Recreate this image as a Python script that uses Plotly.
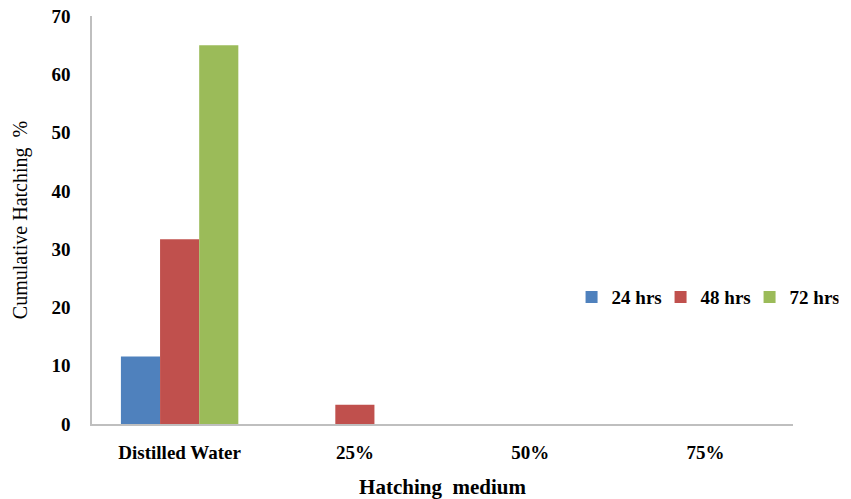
import plotly.graph_objects as go

categories = ["Distilled Water", "25%", "50%", "75%"]
hrs_24 = [11.6, 0, 0, 0]
hrs_48 = [31.7, 3.3, 0, 0]
hrs_72 = [65, 0, 0, 0]
series_names = ["24 hrs", "48 hrs", "72 hrs"]
colors = ["#4F81BD", "#C0504D", "#9BBB59"]

fig = go.Figure()
for name, vals, col in zip(series_names, [hrs_24, hrs_48, hrs_72], colors):
    fig.add_trace(go.Bar(x=categories, y=vals, name=name, marker_color=col,
                         marker_line_width=0))

font_family = "Liberation Serif, Times New Roman, serif"
fig.update_layout(
    width=851, height=499,
    margin=dict(l=92, r=49, t=16, b=75),
    paper_bgcolor="white", plot_bgcolor="white",
    barmode="group", bargap=0.33, bargroupgap=0,
    font=dict(family=font_family, color="black"),
    legend=dict(orientation="h", x=1.065, y=0.311, xanchor="right", yanchor="middle",
                font=dict(size=19, family=font_family, weight="bold"),
                itemwidth=30, entrywidth=44, entrywidthmode="pixels",
                bgcolor="rgba(0,0,0,0)", traceorder="normal"),
    xaxis=dict(showline=True, linecolor="#BFBFBF", linewidth=1.5, automargin=False,
               tickfont=dict(size=19, weight="bold"), ticks="",
               ticklabelstandoff=10,
               title=dict(text="Hatching  medium", font=dict(size=21, weight="bold"),
                          standoff=18)),
    yaxis=dict(range=[0, 70], dtick=10, showgrid=False, zeroline=False, automargin=False,
               showline=True, linecolor="#BFBFBF", linewidth=1.5, ticks="",
               tickfont=dict(size=19, weight="bold"), ticklabelstandoff=16,
               title=dict(text="Cumulative Hatching  %", font=dict(size=20),
                          standoff=18)),
)

fig.write_html("out.html")
